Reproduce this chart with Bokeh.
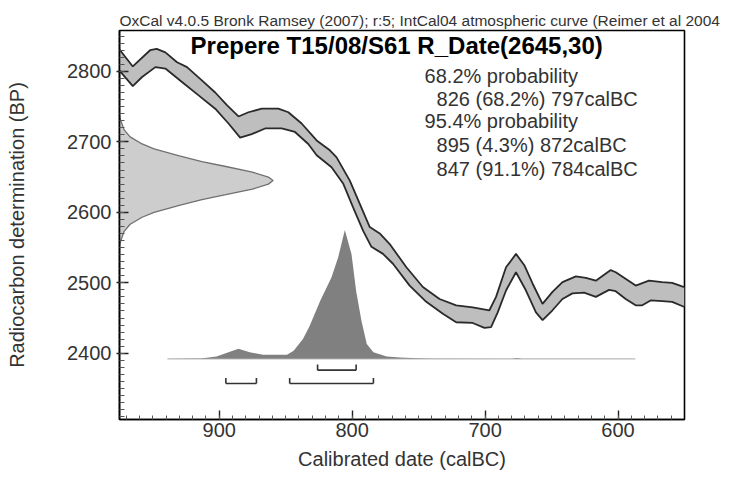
from bokeh.plotting import figure
from bokeh.models import Range1d, FixedTicker, Label, ColumnDataSource
from bokeh.embed import file_html
from bokeh.resources import INLINE

# ---------------- data ----------------
# calibration curve (IntCal04), upper and lower edges of the band
cal_upper_x = [975, 965, 952, 947, 940.5, 931.7, 924.2, 911.8, 903, 894.2, 885.5, 878, 868, 855.5, 848,
               838, 826.7, 816.75, 811.7, 801.75, 794.25, 786.75, 779.25, 771.75, 759.2, 746.8, 734.25,
               721.75, 709.3, 696.75, 691.75, 684.25, 676.75, 670.5, 664.3, 656.8, 649.3, 641.8, 631.7,
               624.2, 616.7, 605.5, 601.7, 586.7, 576.75, 566.8, 559.3, 551.8, 550]
cal_upper_y = [2831, 2807, 2830, 2832, 2827, 2813, 2806, 2785, 2770, 2752, 2736, 2742, 2747, 2747, 2742,
               2726, 2702, 2688, 2678, 2645, 2612, 2579, 2570, 2555, 2522, 2494, 2477,
               2468, 2465, 2461, 2480, 2522, 2541, 2525, 2499, 2470, 2487, 2501, 2509,
               2507, 2503, 2518, 2515, 2496, 2503, 2501, 2500, 2495, 2494]
cal_lower_x = [975, 965, 958, 948, 940.5, 928, 915.5, 903, 893, 884.25, 875.5, 865.5, 853, 843, 833,
               826.7, 815.5, 806.8, 799.3, 791.8, 785.5, 776.8, 769.3, 756.75, 744.25, 731.75, 721.75,
               709.3, 700.5, 695.5, 690.5, 684.25, 676.75, 669.25, 661.75, 656.75, 649.3, 641.8, 634.3,
               625.5, 616.7, 606.75, 601.75, 594.25, 586.75, 581.8, 575.5, 566.8, 559.3, 551.8, 550]
cal_lower_y = [2801, 2779, 2792, 2806, 2804, 2785, 2766, 2747, 2726, 2706, 2711, 2719, 2719, 2714, 2697,
               2681, 2664, 2641, 2607, 2574, 2551, 2541, 2527, 2496, 2473, 2456, 2444,
               2443, 2436, 2437, 2458, 2489, 2515, 2489, 2458, 2447, 2461, 2477, 2485,
               2486, 2480, 2490, 2488, 2477, 2468, 2468, 2475, 2474, 2473, 2467, 2466]

# radiocarbon date R_Date(2645,30): BP values and drawn width (years) of its distribution
rdate_bp = [2737, 2730, 2717, 2707, 2697, 2690, 2680, 2672, 2665, 2657, 2650, 2645,
            2640, 2633, 2625, 2618, 2610, 2600, 2593, 2583, 2573, 2560, 2553]
rdate_w = [0, 1, 3.5, 8, 17, 26, 45, 62, 80, 100, 112, 115.5,
           112, 100, 80, 62, 45, 26, 17, 8, 3.5, 1, 0]

# calibrated probability distribution (relative)
cal_dist_x = [939, 914, 902, 893, 885.5, 877, 867, 849, 844, 837, 832, 824, 815.5, 810.5, 805.5,
              800.5, 797, 793, 789, 784, 774, 764, 742, 680, 676, 672, 587]
cal_dist_p = [0, 0.004, 0.018, 0.051, 0.078, 0.051, 0.033, 0.033, 0.064, 0.155, 0.256, 0.45, 0.633,
              0.788, 1.0, 0.814, 0.527, 0.295, 0.116, 0.051, 0.018, 0.01, 0.002, 0, 0.006, 0, 0]

# highest probability ranges
range68_start = [826]
range68_end = [797]
range68_pct = ["68.2"]
range95_start = [895, 847]
range95_end = [872, 784]
range95_pct = ["4.3", "91.1"]

x_ticks = [600, 700, 800, 900]
y_ticks = [2400, 2500, 2600, 2700, 2800]

# ---------------- styling constants ----------------
X0, X1 = 975, 550
Y0, Y1 = 2306, 2858
DIST_BASE = 2392
DIST_H = 183
ROW68, ROW95, BR_TICK = 2376, 2357, 8

p = figure(width=732, height=476, x_range=Range1d(X0, X1), y_range=Range1d(Y0, Y1),
           output_backend="svg", toolbar_location=None,
           min_border_left=119, min_border_right=48, min_border_top=30, min_border_bottom=57)
p.background_fill_color = "white"
p.border_fill_color = "white"
p.xgrid.visible = False
p.ygrid.visible = False
p.outline_line_color = "black"
p.outline_line_width = 1.6

p.title.text = "OxCal v4.0.5 Bronk Ramsey (2007); r:5; IntCal04 atmospheric curve (Reimer et al 2004"
p.title.text_font = "Liberation Sans"
p.title.text_font_size = "15.5px"
p.title.text_font_style = "normal"
p.title.text_color = "#333333"
p.title.align = "left"
p.title.offset = 0
p.title.standoff = 3

# calibration band
band_x = cal_upper_x + cal_lower_x[::-1]
band_y = cal_upper_y + cal_lower_y[::-1]
p.patch(band_x, band_y, fill_color="#bebebe", line_color=None)
p.line(cal_upper_x, cal_upper_y, line_color="#2a2a2a", line_width=1.8)
p.line(cal_lower_x, cal_lower_y, line_color="#2a2a2a", line_width=1.8)

# radiocarbon date distribution on the y axis
rx = [X0 - w for w in rdate_w]
p.patch(rx + [X0, X0], rdate_bp + [rdate_bp[-1], rdate_bp[0]], fill_color="#cdcdcd", line_color=None)
p.line(rx, rdate_bp, line_color="#707070", line_width=1.3)

# calibrated distribution
dsrc = ColumnDataSource(dict(x=cal_dist_x, y1=[DIST_BASE] * len(cal_dist_x),
                             y2=[DIST_BASE + DIST_H * v for v in cal_dist_p]))
p.varea(x="x", y1="y1", y2="y2", source=dsrc, fill_color="#808080")
p.line([cal_dist_x[0], cal_dist_x[-1]], [DIST_BASE, DIST_BASE], line_color="#a8a8a8", line_width=1)

# range brackets
def brackets(starts, ends, row):
    n = len(starts)
    p.segment(x0=starts, y0=[row] * n, x1=ends, y1=[row] * n, line_color="#333333", line_width=1.6)
    p.segment(x0=starts, y0=[row] * n, x1=starts, y1=[row + BR_TICK] * n, line_color="#333333", line_width=1.6)
    p.segment(x0=ends, y0=[row] * n, x1=ends, y1=[row + BR_TICK] * n, line_color="#333333", line_width=1.6)

brackets(range68_start, range68_end, ROW68)
brackets(range95_start, range95_end, ROW95)

# axes
for ax in p.xaxis:
    ax.ticker = FixedTicker(ticks=x_ticks, minor_ticks=list(range(560, 980, 10)))
    ax.axis_label = "Calibrated date (calBC)"
    ax.major_tick_in = 9
    ax.major_tick_out = 0
    ax.minor_tick_in = 4
    ax.minor_tick_out = 0
    ax.major_label_standoff = 3
    ax.axis_label_standoff = 8
for ax in p.yaxis:
    ax.ticker = FixedTicker(ticks=y_ticks, minor_ticks=list(range(2310, 2860, 10)))
    ax.axis_label = "Radiocarbon determination (BP)"
    ax.major_tick_in = 9
    ax.major_tick_out = 3
    ax.minor_tick_in = 5
    ax.minor_tick_out = 0
    ax.major_label_standoff = 5
    ax.axis_label_standoff = 36
for ax in list(p.xaxis) + list(p.yaxis):
    ax.axis_line_color = "black"
    ax.axis_line_width = 1.6
    ax.major_tick_line_color = "#222222"
    ax.minor_tick_line_color = "#555555"
    ax.major_tick_line_width = 1.4
    ax.major_label_text_font = "Liberation Sans"
    ax.major_label_text_font_size = "20px"
    ax.major_label_text_color = "#333333"
    ax.axis_label_text_font = "Liberation Sans"
    ax.axis_label_text_font_size = "20px"
    ax.axis_label_text_font_style = "normal"
    ax.axis_label_text_color = "#333333"

# texts inside the frame
p.add_layout(Label(x=766.5, y=2837, text="Prepere T15/08/S61 R_Date(2645,30)", text_align="center",
                   text_baseline="middle", text_font="Liberation Sans", text_font_size="24px",
                   text_font_style="bold", text_color="black"))

lines = ["68.2% probability"]
lines += [f"  {s} ({pc}%) {e}calBC" for s, e, pc in zip(range68_start, range68_end, range68_pct)]
lines += ["95.4% probability"]
lines += [f"  {s} ({pc}%) {e}calBC" for s, e, pc in zip(range95_start, range95_end, range95_pct)]
ys = [2794, 2761.5, 2729, 2695, 2661]
for t, yy in zip(lines, ys):
    indent = t.startswith("  ")
    p.add_layout(Label(x=736.5 if indent else 745.5, y=yy, text=t.strip(), text_align="left",
                       text_baseline="middle", text_font="Liberation Sans", text_font_size="20px",
                       text_color="#333333"))

open("out.html", "w").write(file_html(p, INLINE))
